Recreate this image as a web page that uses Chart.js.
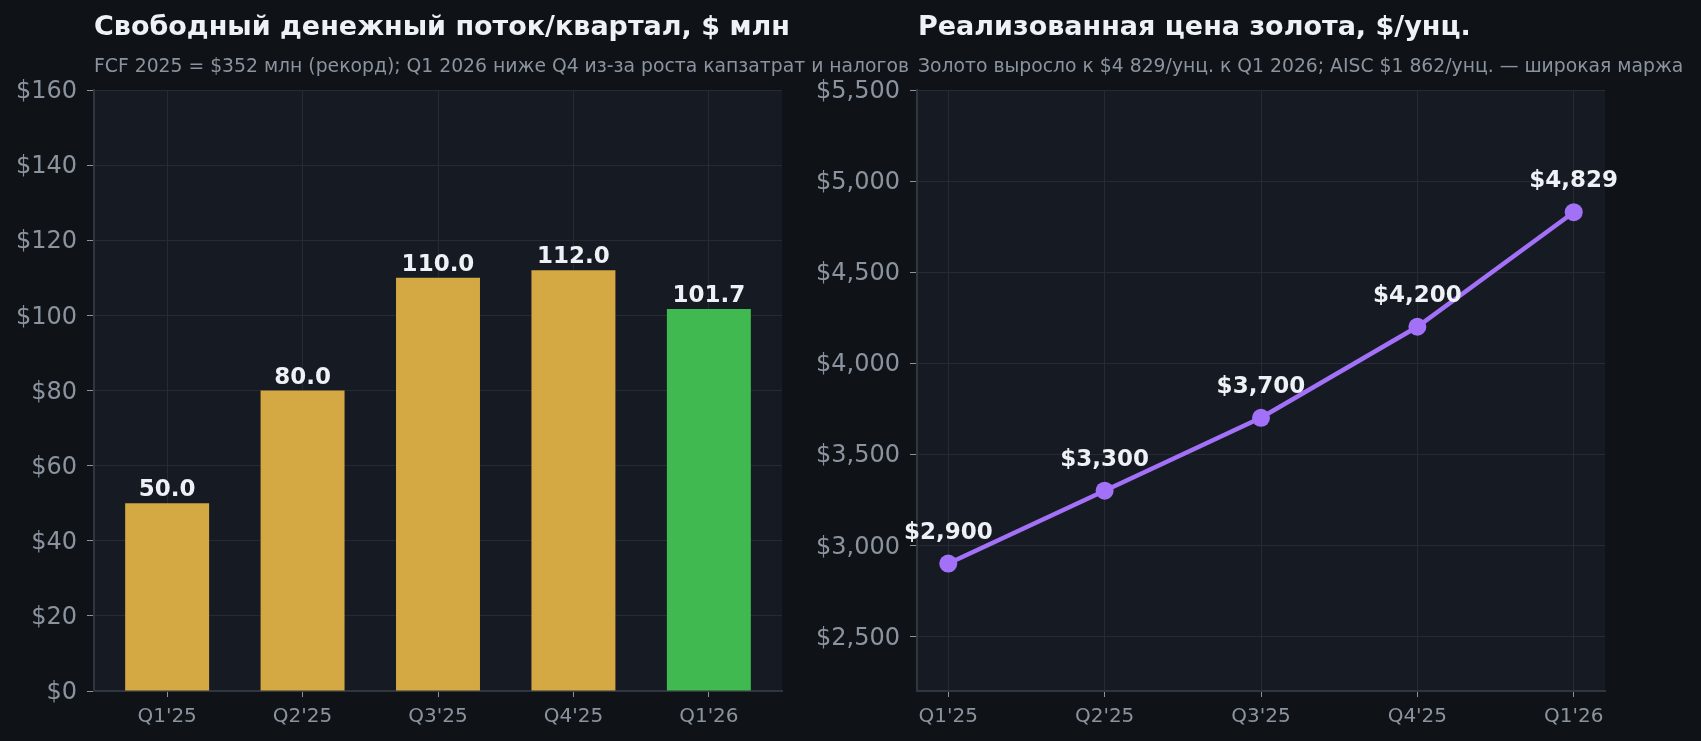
<!DOCTYPE html>
<html>
<head>
<meta charset="utf-8">
<script src="https://cdn.jsdelivr.net/npm/chart.js@4.4.1/dist/chart.umd.min.js"></script>
<style>
    html, body { margin: 0; padding: 0; background: #0f1217; }
    #wrap { position: relative; width: 1701px; height: 741px; overflow: hidden; font-family: "DejaVu Sans", sans-serif; }
    .box { position: absolute; top: 0; height: 741px; }
    .title { position: absolute; white-space: nowrap; color: #eef1f5; font-weight: bold; font-size: 27px; line-height: 27px; }
    .sub { position: absolute; white-space: nowrap; color: #8b949e; font-size: 18.8px; line-height: 19px; }
</style>
</head>
<body>
<div id="wrap">
    <div class="box" style="left:0; width:850px;"><canvas id="fcfChart"></canvas></div>
    <div class="box" style="left:790px; width:911px;"><canvas id="goldChart"></canvas></div>
    <div class="title" style="left:94px; top:12px;">Свободный денежный поток/квартал, $ млн</div>
    <div class="sub" style="left:94px; top:56px;">FCF 2025 = $352 млн (рекорд); Q1 2026 ниже Q4 из-за роста капзатрат и налогов</div>
    <div class="title" style="left:918px; top:12px;">Реализованная цена золота, $/унц.</div>
    <div class="sub" style="left:918px; top:56px;">Золото выросло к $4 829/унц. к Q1 2026; AISC $1 862/унц. — широкая маржа</div>
</div>
<script>
// data
const quarters = ["Q1'25", "Q2'25", "Q3'25", "Q4'25", "Q1'26"];
const fcfValues = [50.0, 80.0, 110.0, 112.0, 101.7];
const goldPrice = [2900, 3300, 3700, 4200, 4829];
const fcfTicks = [0, 20, 40, 60, 80, 100, 120, 140, 160];
const goldTicks = [2500, 3000, 3500, 4000, 4500, 5000, 5500];

const GOLD = '#d4a843';
const GREEN = '#3fb950';
const PURPLE = '#a371f7';
const PLOT_BG = '#161a23';
const GRID = '#252a34';
const SPINE = '#30363d';
const TICK_TXT = '#8b949e';
const LABEL_TXT = '#eef1f5';

Chart.defaults.font.family = '"DejaVu Sans", sans-serif';
Chart.defaults.animation = false;

// fill plot area
const plotBg = {
    id: 'plotBg',
    beforeDraw(chart) {
        const a = chart.chartArea;
        const ctx = chart.ctx;
        ctx.save();
        ctx.fillStyle = PLOT_BG;
        ctx.fillRect(a.left, a.top, a.right - a.left, a.bottom - a.top);
        ctx.restore();
    }
};

// value labels over bars / points
const valueLabels = {
    id: 'valueLabels',
    afterDatasetsDraw(chart, args, opts) {
        const ctx = chart.ctx;
        const meta = chart.getDatasetMeta(0);
        const data = chart.data.datasets[0].data;
        ctx.save();
        ctx.font = 'bold 23px "DejaVu Sans"';
        ctx.fillStyle = LABEL_TXT;
        ctx.textAlign = 'center';
        ctx.textBaseline = 'alphabetic';
        meta.data.forEach((el, i) => {
            const v = typeof data[i] === 'object' ? data[i].y : data[i];
            ctx.fillText(opts.format(v), el.x, el.y - opts.gap);
        });
        ctx.restore();
    }
};

function catTicks(scale) {
    scale.ticks = quarters.map((q, i) => ({ value: i }));
}

// FCF bars
new Chart(document.getElementById('fcfChart'), {
    type: 'bar',
    data: {
        datasets: [{
            data: fcfValues.map((v, i) => ({ x: i, y: v })),
            backgroundColor: fcfValues.map((v, i) => i === fcfValues.length - 1 ? GREEN : GOLD),
            barPercentage: 0.62,
            categoryPercentage: 1.0,
            borderWidth: 0
        }]
    },
    options: {
        responsive: true,
        maintainAspectRatio: false,
        layout: { padding: { top: 90, right: 68, bottom: 0, left: 0 } },
        plugins: {
            legend: { display: false },
            tooltip: { enabled: false },
            valueLabels: { gap: 7, format: v => v.toFixed(1) }
        },
        scales: {
            x: {
                type: 'linear',
                min: -0.54,
                max: 4.54,
                offset: false,
                afterBuildTicks: catTicks,
                afterFit: s => { s.height = 50; },
                grid: { offset: false, color: GRID, tickColor: TICK_TXT, tickLength: 6 },
                border: { color: SPINE, width: 2 },
                ticks: {
                    color: TICK_TXT,
                    font: { size: 20 },
                    padding: 8,
                    callback: v => quarters[v]
                }
            },
            y: {
                min: 0,
                max: 160,
                afterBuildTicks: s => { s.ticks = fcfTicks.map(v => ({ value: v })); },
                afterFit: s => { s.width = 94; },
                grid: { color: GRID, tickColor: TICK_TXT, tickLength: 7 },
                border: { color: SPINE, width: 2 },
                ticks: {
                    color: TICK_TXT,
                    font: { size: 24 },
                    padding: 10,
                    labelOffset: 2,
                    callback: v => '$' + v
                }
            }
        }
    },
    plugins: [plotBg, valueLabels]
});

// gold price line
new Chart(document.getElementById('goldChart'), {
    type: 'line',
    data: {
        datasets: [{
            data: goldPrice.map((v, i) => ({ x: i, y: v })),
            borderColor: PURPLE,
            backgroundColor: PURPLE,
            borderWidth: 4.5,
            tension: 0,
            pointRadius: 9,
            pointBorderWidth: 0,
            pointBackgroundColor: PURPLE
        }]
    },
    options: {
        responsive: true,
        maintainAspectRatio: false,
        layout: { padding: { top: 90, right: 96, bottom: 0, left: 0 } },
        plugins: {
            legend: { display: false },
            tooltip: { enabled: false },
            valueLabels: { gap: 25, format: v => '$' + v.toLocaleString('en-US') }
        },
        scales: {
            x: {
                type: 'linear',
                min: -0.2,
                max: 4.2,
                afterBuildTicks: catTicks,
                afterFit: s => { s.height = 50; },
                grid: { color: GRID, tickColor: TICK_TXT, tickLength: 6 },
                border: { color: SPINE, width: 2 },
                ticks: {
                    color: TICK_TXT,
                    font: { size: 20 },
                    padding: 8,
                    callback: v => quarters[v]
                }
            },
            y: {
                min: 2200,
                max: 5500,
                afterBuildTicks: s => { s.ticks = goldTicks.map(v => ({ value: v })); },
                afterFit: s => { s.width = 127; },
                grid: { color: GRID, tickColor: TICK_TXT, tickLength: 7 },
                border: { color: SPINE, width: 2 },
                ticks: {
                    color: TICK_TXT,
                    font: { size: 24 },
                    padding: 10,
                    labelOffset: 2,
                    callback: v => '$' + v.toLocaleString('en-US')
                }
            }
        }
    },
    plugins: [plotBg, valueLabels]
});
</script>
</body>
</html>
